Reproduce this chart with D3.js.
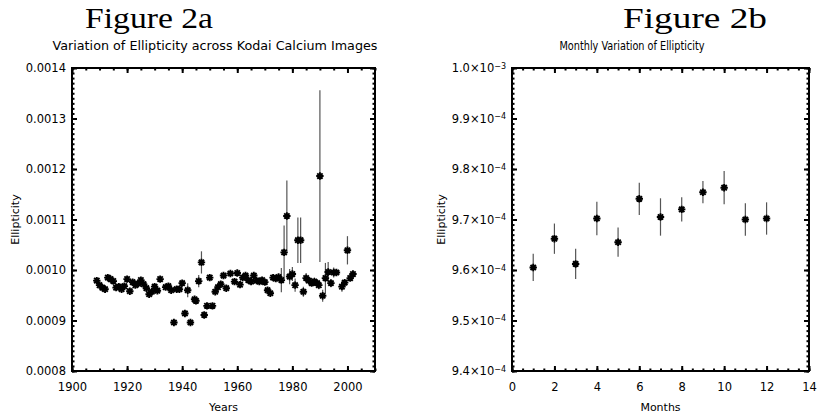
<!DOCTYPE html>
<html>
<head>
<meta charset="utf-8">
<script src="https://cdn.jsdelivr.net/npm/d3@7"></script>
<style>
  body { margin: 0; background: #fff; }
  svg { display: block; }
  .tick text { font-family: "DejaVu Sans", sans-serif; font-size: 11.5px; fill: #000; }
  .tick line { stroke: #000; stroke-width: 2; }
</style>
</head>
<body>
<div id="chart"></div>
<script>
// Figure 2a: yearly ellipticity values
var years = [1909, 1910, 1911, 1912, 1913, 1914, 1915, 1916, 1917, 1918, 1919, 1920,
  1921, 1922, 1923, 1924, 1925, 1926, 1927, 1928, 1929, 1930, 1931, 1932, 1934, 1935,
  1936, 1937, 1938, 1939, 1940, 1941, 1942, 1943, 1944.5, 1945, 1946, 1947, 1948, 1949,
  1950, 1951, 1952, 1953, 1954, 1955, 1956, 1957.5, 1959, 1960, 1961, 1962, 1963, 1964,
  1965, 1966, 1967, 1968, 1969, 1970, 1971, 1972, 1973, 1974, 1975, 1976, 1977, 1978,
  1979, 1980, 1981, 1982, 1983, 1984, 1985, 1986, 1987, 1988, 1989, 1989.6, 1990, 1991,
  1992, 1993, 1994, 1995, 1996, 1998, 1999, 2000, 2001, 2002];
var ellipticity = [0.000979, 0.000970, 0.000965, 0.000962, 0.000985, 0.000982, 0.000978,
  0.000965, 0.000967, 0.000962, 0.000968, 0.000982, 0.000958, 0.000976, 0.000970, 0.000973,
  0.000980, 0.000972, 0.000964, 0.000952, 0.000957, 0.000967, 0.000959, 0.000982, 0.000966,
  0.000968, 0.000960, 0.000896, 0.000962, 0.000962, 0.000974, 0.000914, 0.000960, 0.000896,
  0.000942, 0.000939, 0.000978, 0.001015, 0.000911, 0.000929, 0.000985, 0.000929, 0.000957,
  0.000966, 0.000972, 0.000989, 0.000964, 0.000993, 0.000977, 0.000994, 0.000971, 0.000985,
  0.000989, 0.000980, 0.000977, 0.000989, 0.000979, 0.000977, 0.000980, 0.000976, 0.000960,
  0.000954, 0.000985, 0.000983, 0.000986, 0.000980, 0.001035, 0.001107, 0.000987, 0.000992,
  0.000970, 0.001059, 0.001059, 0.000957, 0.000984, 0.000979, 0.000974, 0.000977, 0.000974,
  0.000970, 0.001186, 0.000949, 0.000984, 0.000996, 0.000974, 0.000995, 0.000995, 0.000967,
  0.000975, 0.001039, 0.000984, 0.000992];
var ellipErr = [0, 0, 0, 0, 0, 0, 0, 0, 0, 0, 0, 0, 0, 0, 0, 0, 0, 0, 0, 0, 0, 0, 0, 0, 0, 0,
  0, 0, 0, 0, 0, 0, 0.000014, 0, 0, 0, 0.000012, 0.000022, 0, 0, 0, 0, 0, 0, 0, 0, 0, 0, 0,
  0, 0, 0, 0, 0, 0, 0, 0, 0, 0, 0, 0, 0, 0, 0, 0, 0.000024, 0.000053, 0.00007, 0.000015,
  0.000014, 0.000013, 0.000045, 0.000045, 0.00001, 0.00001, 0.000008, 0.000006, 0.000008,
  0.000006, 0.000008, 0.00017, 0.000012, 0.00003, 0.00002, 0.000008, 0.00001, 0.000006,
  0.00001, 0.000006, 0.000028, 0.000006, 0.000006];
var yearTicks = [1900, 1920, 1940, 1960, 1980, 2000];
var ellipTicks = [0.0008, 0.0009, 0.0010, 0.0011, 0.0012, 0.0013, 0.0014];

// Figure 2b: monthly means
var months = [1, 2, 3, 4, 5, 6, 7, 8, 9, 10, 11, 12];
var monthly = [9.605e-4, 9.662e-4, 9.612e-4, 9.702e-4, 9.655e-4, 9.741e-4, 9.705e-4,
  9.720e-4, 9.754e-4, 9.763e-4, 9.700e-4, 9.702e-4];
var monthlyErr = [0.27e-5, 0.3e-5, 0.3e-5, 0.33e-5, 0.29e-5, 0.32e-5, 0.37e-5, 0.24e-5,
  0.22e-5, 0.33e-5, 0.32e-5, 0.32e-5];
var monthTicks = [0, 2, 4, 6, 8, 10, 12, 14];
var monthlyTicks = [9.4e-4, 9.5e-4, 9.6e-4, 9.7e-4, 9.8e-4, 9.9e-4, 1.0e-3];

var svg = d3.select("#chart").append("svg")
  .attr("width", 819)
  .attr("height", 417);

// asterisk marker like IDL psym=2
function star(s) {
  var d = s * 0.72;
  return "M" + (-s) + ",0H" + s + "M0," + (-s) + "V" + s +
    "M" + (-d) + "," + (-d) + "L" + d + "," + d + "M" + (-d) + "," + d + "L" + d + "," + (-d);
}

function drawPanel(cfg) {
  var x = d3.scaleLinear().domain(cfg.xDomain).range([cfg.left, cfg.right]);
  var y = d3.scaleLinear().domain(cfg.yDomain).range([cfg.bottom, cfg.top]);
  var g = svg.append("g");

  var xMinor = d3.range(cfg.xDomain[0], cfg.xDomain[1] + 1e-9, cfg.xMinor);
  var yMinor = d3.range(0, 61).map(i => cfg.yDomain[0] + i * (cfg.yDomain[1] - cfg.yDomain[0]) / 60);

  // minor ticks on all four sides
  var minor = [
    [d3.axisBottom(x).tickValues(xMinor).tickSize(-2.5), cfg.bottom, "y"],
    [d3.axisTop(x).tickValues(xMinor).tickSize(-2.5), cfg.top, "y"],
    [d3.axisLeft(y).tickValues(yMinor).tickSize(-2.5), cfg.left, "x"],
    [d3.axisRight(y).tickValues(yMinor).tickSize(-2.5), cfg.right, "x"]
  ];
  minor.forEach(function(m) {
    var a = g.append("g")
      .attr("transform", m[2] == "y" ? `translate(0,${m[1]})` : `translate(${m[1]},0)`)
      .call(m[0].tickFormat(""));
    a.select(".domain").remove();
  });

  // major ticks
  g.append("g")
    .attr("transform", `translate(0,${cfg.bottom})`)
    .call(d3.axisBottom(x).tickValues(cfg.xTicks).tickSize(-5).tickPadding(12).tickFormat(d3.format("d")));
  g.append("g").attr("transform", `translate(0,${cfg.top})`)
    .call(d3.axisTop(x).tickValues(cfg.xTicks).tickSize(-5).tickFormat(""));
  var leftAxis = g.append("g")
    .attr("transform", `translate(${cfg.left},0)`)
    .call(d3.axisLeft(y).tickValues(cfg.yTicks).tickSize(-5).tickPadding(6).tickFormat(cfg.yFormat));
  g.append("g").attr("transform", `translate(${cfg.right},0)`)
    .call(d3.axisRight(y).tickValues(cfg.yTicks).tickSize(-5).tickFormat(""));
  g.selectAll(".domain").remove();

  if (cfg.sci) {
    leftAxis.selectAll(".tick text").each(function(d) {
      var t = d3.select(this).text("");
      var e = Math.floor(Math.log10(d) + 1e-9);
      var m = d / Math.pow(10, e);
      t.append("tspan").text(m.toFixed(1) + "×10");
      t.append("tspan").attr("dy", "-0.45em").style("font-size", "8px").text("−" + (-e));
    });
  }

  // frame
  g.append("rect")
    .attr("x", cfg.left).attr("y", cfg.top)
    .attr("width", cfg.right - cfg.left).attr("height", cfg.bottom - cfg.top)
    .attr("fill", "none").attr("stroke", "#000").attr("stroke-width", 2);

  // error bars
  g.selectAll(".err")
    .data(cfg.xs.map((v, i) => ({x: v, y: cfg.ys[i], e: cfg.es[i]})).filter(d => d.e > 0))
    .enter().append("line")
    .attr("x1", d => x(d.x)).attr("x2", d => x(d.x))
    .attr("y1", d => y(d.y - d.e)).attr("y2", d => y(d.y + d.e))
    .attr("stroke", "#555").attr("stroke-width", 1.2);

  // points
  g.selectAll(".pt")
    .data(cfg.xs.map((v, i) => ({x: v, y: cfg.ys[i]})))
    .enter().append("path")
    .attr("transform", d => `translate(${x(d.x)},${y(d.y)})`)
    .attr("d", star(3.7))
    .attr("stroke", "#000").attr("stroke-width", 1.9).attr("fill", "none");

  // texts
  svg.append("text")
    .attr("x", cfg.figX).attr("y", 28)
    .attr("textLength", cfg.figW).attr("lengthAdjust", "spacingAndGlyphs")
    .style("font-family", "'Liberation Serif', serif").style("font-size", "30px")
    .text(cfg.fig);
  svg.append("text")
    .attr("x", cfg.titleX).attr("y", 50).attr("text-anchor", "middle")
    .attr("textLength", cfg.titleW).attr("lengthAdjust", "spacingAndGlyphs")
    .style("font-family", "'DejaVu Sans', sans-serif").style("font-size", cfg.titleSize)
    .text(cfg.title);
  svg.append("text")
    .attr("x", (cfg.left + cfg.right) / 2).attr("y", 411).attr("text-anchor", "middle")
    .style("font-family", "'DejaVu Sans', sans-serif").style("font-size", "11px")
    .text(cfg.xLabel);
  svg.append("text")
    .attr("transform", `translate(${cfg.yLabelX},${(cfg.top + cfg.bottom) / 2}) rotate(-90)`)
    .attr("text-anchor", "middle")
    .style("font-family", "'DejaVu Sans', sans-serif").style("font-size", "11px")
    .text("Ellipticity");
}

drawPanel({
  xDomain: [1900, 2010], yDomain: [0.0008, 0.0014],
  left: 72, right: 375, top: 68, bottom: 371,
  xTicks: yearTicks, yTicks: ellipTicks, xMinor: 5,
  yFormat: d3.format(".4f"), sci: false,
  xs: years, ys: ellipticity, es: ellipErr,
  fig: "Figure 2a", figX: 85, figW: 128,
  title: "Variation of Ellipticity across Kodai Calcium Images", titleX: 215, titleW: 325, titleSize: "12.5px",
  xLabel: "Years", yLabelX: 19
});

drawPanel({
  xDomain: [0, 14], yDomain: [9.4e-4, 1.0e-3],
  left: 512, right: 809, top: 68, bottom: 371,
  xTicks: monthTicks, yTicks: monthlyTicks, xMinor: 0.5,
  yFormat: d3.format(".1e"), sci: true,
  xs: months, ys: monthly, es: monthlyErr,
  fig: "Figure 2b", figX: 623, figW: 144,
  title: "Monthly Variation of Ellipticity", titleX: 632, titleW: 145, titleSize: "12px",
  xLabel: "Months", yLabelX: 445
});
</script>
</body>
</html>
